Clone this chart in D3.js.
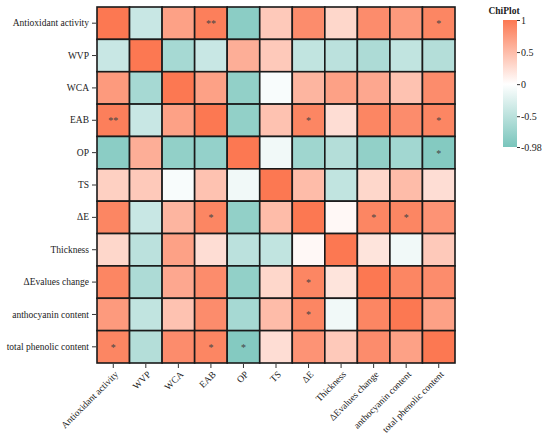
<!DOCTYPE html>
<html>
<head>
<meta charset="utf-8">
<script src="https://cdn.jsdelivr.net/npm/d3@7"></script>
<style>
  body { margin: 0; background: #fff; }
  svg { display: block; }
  text { font-family: "Liberation Serif", "Times New Roman", "DejaVu Serif", serif; fill: #222; }
</style>
</head>
<body>
<svg id="chart" width="550" height="435"></svg>
<script>
// variables, same order for rows and columns
const labels = ["Antioxidant activity","WVP","WCA","EAB","OP","TS","\u0394E","Thickness","\u0394Evalues change","anthocyanin content","total phenolic content"];

// correlation values, one array per row
const rAntiox   = [1, -0.4, 0.7, 0.95, -0.85, 0.4, 0.85, 0.3, 0.85, 0.75, 0.9];
const rWVP      = [-0.4, 1, -0.65, -0.4, 0.6, 0.4, -0.45, -0.5, -0.6, -0.45, -0.55];
const rWCA      = [0.75, -0.65, 1, 0.7, -0.8, -0.05, 0.55, 0.7, 0.65, 0.45, 0.85];
const rEAB      = [0.95, -0.4, 0.7, 1, -0.8, 0.45, 0.9, 0.25, 0.9, 0.85, 0.9];
const rOP       = [-0.85, 0.6, -0.8, -0.78, 1, -0.1, -0.7, -0.55, -0.8, -0.68, -0.9];
const rTS       = [0.35, 0.4, -0.05, 0.45, -0.1, 1, 0.5, -0.45, 0.3, 0.5, 0.25];
const rDE       = [0.9, -0.4, 0.55, 0.9, -0.8, 0.5, 1, 0.05, 0.9, 0.9, 0.8];
const rThick    = [0.3, -0.5, 0.7, 0.25, -0.5, -0.45, 0.05, 1, 0.2, -0.1, 0.4];
const rDEchange = [0.9, -0.6, 0.65, 0.85, -0.8, 0.3, 0.9, 0.2, 1, 0.9, 0.85];
const rAntho    = [0.75, -0.45, 0.45, 0.85, -0.65, 0.5, 0.9, -0.1, 0.9, 1, 0.7];
const rTPC      = [0.9, -0.55, 0.85, 0.9, -0.9, 0.25, 0.8, 0.4, 0.85, 0.7, 1];
const values = [rAntiox, rWVP, rWCA, rEAB, rOP, rTS, rDE, rThick, rDEchange, rAntho, rTPC];

// significance marks, [row, col, mark]
const stars = [
  [0,3,"**"],[0,10,"*"],
  [3,0,"**"],[3,6,"*"],[3,10,"*"],
  [4,10,"*"],
  [6,3,"*"],[6,8,"*"],[6,9,"*"],
  [8,6,"*"],[9,6,"*"],
  [10,0,"*"],[10,3,"*"],[10,4,"*"]
];

const legendTicks = [1, 0.5, 0, -0.5, -0.98];

const svg = d3.select("#chart");
const grid = {left: 97, top: 7, width: 358, height: 356};
const fontSize = "9.5px";

const x = d3.scaleBand().domain(labels).range([grid.left, grid.left + grid.width]);
const y = d3.scaleBand().domain(labels).range([grid.top, grid.top + grid.height]);

const color = d3.scaleLinear()
  .domain([-0.98, 0, 1])
  .range(["#79c5bc", "#ffffff", "#fc7852"]);

// cells
const cells = [];
values.forEach((row, i) => row.forEach((v, j) => cells.push({r: labels[i], c: labels[j], v: v})));

svg.append("g").selectAll("rect")
  .data(cells)
  .enter().append("rect")
  .attr("x", d => x(d.c))
  .attr("y", d => y(d.r))
  .attr("width", x.bandwidth())
  .attr("height", y.bandwidth())
  .attr("fill", d => color(d.v))
  .attr("stroke", "#1a1a1a")
  .attr("stroke-width", 1.6);

// stars
svg.append("g").selectAll("text")
  .data(stars)
  .enter().append("text")
  .attr("x", d => x(labels[d[1]]) + x.bandwidth() / 2)
  .attr("y", d => y(labels[d[0]]) + y.bandwidth() / 2 + 4)
  .attr("text-anchor", "middle")
  .style("font-size", "10px")
  .style("fill", "#444")
  .text(d => d[2]);

// y axis
const yAxis = svg.append("g")
  .attr("transform", `translate(${grid.left - 1},0)`)
  .call(d3.axisLeft(y).tickSize(4).tickPadding(3));
yAxis.select(".domain").remove();
yAxis.selectAll("line").attr("stroke", "#333");
yAxis.selectAll("text").style("font-size", fontSize).style("font-family", "Liberation Serif").attr("fill", "#222");

// x axis
const xAxis = svg.append("g")
  .attr("transform", `translate(0,${grid.top + grid.height + 1})`)
  .call(d3.axisBottom(x).tickSize(4).tickPadding(3));
xAxis.select(".domain").remove();
xAxis.selectAll("line").attr("stroke", "#333");
xAxis.selectAll("text")
  .style("font-size", fontSize)
  .style("font-family", "Liberation Serif")
  .attr("fill", "#222")
  .attr("transform", "rotate(-45)")
  .attr("dx", "-0.4em")
  .attr("dy", "0.5em")
  .style("text-anchor", "end");

// legend
const lg = {x: 503, y: 20, w: 14, h: 127};
const defs = svg.append("defs");
const grad = defs.append("linearGradient")
  .attr("id", "legend-grad")
  .attr("x1", "0").attr("y1", "0").attr("x2", "0").attr("y2", "1");
const ly = d3.scaleLinear().domain([1, -0.98]).range([lg.y, lg.y + lg.h]);
[1, 0, -0.98].forEach(v => {
  grad.append("stop")
    .attr("offset", (ly(v) - lg.y) / lg.h)
    .attr("stop-color", color(v));
});
svg.append("rect")
  .attr("x", lg.x).attr("y", lg.y)
  .attr("width", lg.w).attr("height", lg.h)
  .attr("fill", "url(#legend-grad)");

const lAxis = svg.append("g")
  .attr("transform", `translate(${lg.x + lg.w},0)`)
  .call(d3.axisRight(ly).tickValues(legendTicks).tickSize(3).tickPadding(1)
    .tickFormat(d => d === 0 ? "0" : String(d)));
lAxis.select(".domain").remove();
lAxis.selectAll("line").attr("stroke", "#333");
lAxis.selectAll("text").style("font-size", "10px").style("font-family", "Liberation Serif").attr("fill", "#222");

svg.append("text")
  .attr("x", 504)
  .attr("y", 14)
  .attr("text-anchor", "middle")
  .style("font-size", "9.5px")
  .style("font-weight", "bold")
  .text("ChiPlot");
</script>
</body>
</html>
